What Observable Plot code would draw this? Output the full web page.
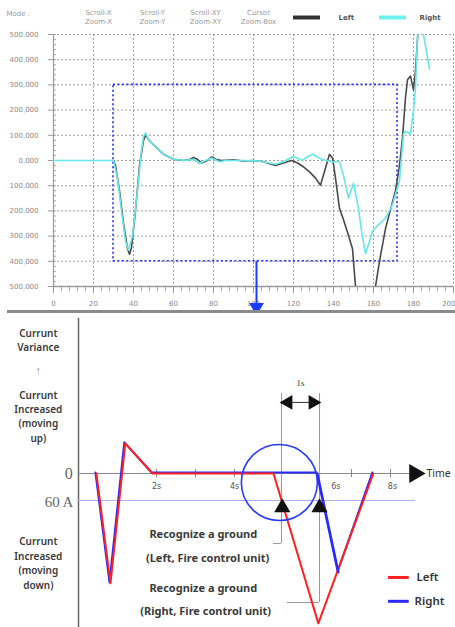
<!DOCTYPE html>
<html><head><meta charset="utf-8">
<script src="https://cdn.jsdelivr.net/npm/d3@7"></script>
<script src="https://cdn.jsdelivr.net/npm/@observablehq/plot@0.6"></script>
<style>
body{margin:0;background:#fff;}
#wrap{position:relative;width:455px;height:627px;overflow:hidden;background:#fff;font-family:"DejaVu Sans",sans-serif;}
#top{position:absolute;left:0;top:0;width:455px;height:312px;}
#bottom{position:absolute;left:0;top:312px;width:455px;height:315px;}
#sep{position:absolute;left:7px;top:310px;width:448px;height:3px;background:#8a8a8a;}
</style></head><body><div id="wrap"><div id="top"></div><div id="sep"></div><div id="bottom"></div></div>
<script>
// ---------- TOP CHART DATA (x units, y in thousands) ----------
const modeButtons = [{t:"Scroll-X",b:"Zoom-X",x:22.5},{t:"Scroll-Y",b:"Zoom-Y",x:49.5},{t:"Scroll-XY",b:"Zoom-XY",x:76},{t:"Cursor",b:"Zoom-Box",x:102.5}];
const topSeries = [{s:"Left",c:"#333",x1:120,x2:133.5,tx:142.5},{s:"Right",c:"#6ff0f0",x1:163,x2:176.5,tx:183}];
const xTicksTop = [0,20,40,60,80,100,120,140,160,180,200];
const yTicksTop = [-500,-400,-300,-200,-100,0,100,200,300,400,500];
const leftTrace = [[30,0],[31,-20],[33,-120],[35,-250],[37,-350],[38,-372],[39,-345],[41,-200],[43,-20],[45,80],[46,100],[48,78],[51,55],[55,25],[60,5],[65,0],[68,3],[70,12],[72,5],[74,-10],[77,0],[79,15],[81,5],[84,0],[90,3],[95,-2],[100,0],[105,-5],[111,-20],[115,-10],[119,0],[122,-10],[125,-25],[128,-45],[131,-70],[133.5,-98],[136,-30],[138,25],[139.5,10],[141,-70],[143,-190],[145,-235],[147,-285],[149.5,-350],[151,-500],[153,-620],[159,-620],[161,-500],[163,-400],[166,-270],[168,-210],[171,-120],[173,-20],[174.5,90],[176,250],[177,320],[178.5,335],[180,280],[181,355],[182,480],[183,620]];
const rightTrace = [[0,0],[30,0],[32,-70],[34,-200],[36,-320],[37.5,-355],[39.5,-300],[42,-120],[44,40],[45,95],[46,110],[47.5,82],[51,55],[55,25],[60,5],[66,0],[70,5],[73,-12],[76,0],[79,10],[83,-5],[86,0],[95,0],[103,-2],[111,-15],[115,-5],[119.5,15],[122,10],[124.5,0],[127,15],[129.5,25],[134,5],[139,-5],[143,-5],[145,-60],[147.5,-150],[150,-90],[152.5,-190],[154,-280],[156,-370],[158,-320],[159.5,-280],[162.5,-255],[166,-230],[169.5,-175],[173,-80],[175,105],[176,116],[178.5,105],[180,200],[181,287],[182,500],[183.5,600],[185,500],[188,363]];
const zoomBox = [{x1:30, x2:172, y1:-400, y2:300}];
const zoomArrow = [{x:101.5, from:-400, to:-568, head:-582}];

// ---------- BOTTOM CHART DATA (t in seconds, value in A) ----------
const redLine  = [[0.46,0],[0.82,-244],[1.2,67],[1.9,0],[5.0,0],[6.15,-333],[7.56,0]];
const blueLine = [[0.46,0],[0.82,-244],[1.2,67],[1.9,0],[6.13,0],[6.67,-220],[7.56,0]];
const threshold = -60;
const timeTicks = [2,3,4,7,8];
const timeLabels = [{t:2,s:"2s"},{t:4,s:"4s"},{t:6.6,s:"6s"},{t:8.05,s:"8s"}];
const detectTimes = [{t:5.205, low:-155.6, leadTo:5.0, lead:-155.6},{t:6.18, low:-286.7, leadTo:5.36, lead:-286.7}];
const circleMark = [{t:5.15, v:-20}];
const leftLabels = [["Currunt",311],["Variance",280],["Currunt",173],["Increased",142],["(moving",111],["up)",78],["Currunt",-151],["Increased",-184],["(moving",-216],["down)",-249]];
const noteLines = [{t:3.2,v:-135.6,s:"Recognize a ground"},{t:3.31,v:-189,s:"(Left, Fire control unit)"},{t:3.2,v:-255.6,s:"Recognize a ground"},{t:3.26,v:-306.7,s:"(Right, Fire control unit)"}];
const legendBottom = [{s:"Left",c:"#ff2020",v:-231,tx:8.95},{s:"Right",c:"#2a2aff",v:-284,tx:9.0}];

const fmtY = v => (Math.abs(v)===0 ? "0" : String(Math.abs(v))) + ",000";
const minorY = d3.range(-500,501,20);
const minorX = d3.range(0,201,4);

const topPlot = Plot.plot({
  width:455, height:312, marginLeft:53, marginRight:2, marginTop:34, marginBottom:26,
  style:{background:"transparent", fontFamily:"DejaVu Sans", fontSize:"7px", color:"#888"},
  x:{domain:[0,200]}, y:{domain:[-500,500]},
  marks:[
    Plot.gridX(xTicksTop.slice(1), {stroke:"#888", strokeOpacity:0.8, strokeDasharray:"2,2"}),
    Plot.gridY(yTicksTop, {stroke:"#888", strokeOpacity:0.8, strokeDasharray:"2,2"}),
    Plot.ruleY(minorY, {x1:0, x2:1.5, stroke:"#aaa"}),
    Plot.ruleX(minorX, {y1:-500, y2:-521, stroke:"#aaa"}),
    Plot.ruleX([0], {stroke:"#999", strokeWidth:1.2}),
    Plot.ruleY([-500], {stroke:"#999", strokeWidth:1.5}),
    Plot.axisX(xTicksTop, {tickSize:7, stroke:"#999", text:null}),
    Plot.text(xTicksTop.slice(0,-1), {x:d=>d, y:-500, dy:17, text:d=>String(d), fill:"#888", fontSize:7}),
    Plot.text(xTicksTop.slice(-1), {x:d=>d, y:-500, dy:17, dx:2, textAnchor:"end", text:d=>String(d), fill:"#888", fontSize:7}),
    Plot.axisY(yTicksTop, {tickSize:5, tickPadding:10, stroke:"#999", fill:"#888", fontSize:7, tickFormat:fmtY}),
    // header
    Plot.text(["Mode :"], {x:0, y:500, dx:-47, dy:-21, textAnchor:"start", text:d=>d, fill:"#999", fontSize:7}),
    Plot.text(modeButtons, {x:"x", y:500, dy:-22, text:"t", fill:"#999", fontSize:7}),
    Plot.text(modeButtons, {x:"x", y:500, dy:-13, text:"b", fill:"#999", fontSize:7}),
    Plot.ruleY(topSeries, {y:500, dy:-17, x1:"x1", x2:"x2", stroke:"c", strokeWidth:4}),
    Plot.text(topSeries, {x:"tx", y:500, dy:-17, textAnchor:"start", text:"s", fill:"#555", fontWeight:"bold", fontSize:7}),
    Plot.rect(zoomBox, {x1:"x1", x2:"x2", y1:"y1", y2:"y2", fill:"none", stroke:"#2430ee", strokeWidth:1.6, strokeDasharray:"2,2.5"}),
    Plot.line(leftTrace, {x:d=>d[0], y:d=>d[1], stroke:"#4a4a4a", strokeWidth:1.6, clip:true}),
    Plot.line(rightTrace, {x:d=>d[0], y:d=>d[1], stroke:"#66e8e8", strokeWidth:1.6, clip:true}),
    Plot.ruleX(zoomArrow, {x:"x", y1:"from", y2:"to", stroke:"#1a3cff", strokeWidth:2}),
    Plot.dot(zoomArrow, {x:"x", y:"head", symbol:"triangle", rotate:180, r:5.5, fill:"#1a3cff", stroke:"none"})
  ]
});
document.getElementById("top").appendChild(topPlot);

// ---------- BOTTOM CHART ----------
const labelX = -1.03;
const bottomPlot = Plot.plot({
  width:455, height:315, margin:0,
  style:{background:"transparent", fontFamily:"Noto Sans"},
  x:{domain:[0, 377/39], range:[78,455], axis:null},
  y:{domain:[-342.2, 357.8], range:[315,0], axis:null},
  marks:[
    Plot.ruleX([0], {y1:-342, y2:345, stroke:"#666", strokeWidth:1.5}),
    Plot.ruleY([threshold], {x1:0, x2:8.64, stroke:"#aab2ff", strokeWidth:1}),
    Plot.ruleY([0], {x1:0, x2:8.5, stroke:"#888", strokeWidth:1}),
    Plot.ruleX(timeTicks, {y1:-9, y2:9, stroke:"#888"}),
    Plot.dot([8.62], {x:d=>d, y:0, symbol:"triangle", rotate:90, r:7, fill:"#111", stroke:"none"}),
    Plot.text(["Time"], {x:8.92, y:0, text:d=>d, textAnchor:"start", fontSize:10.5, fill:"#333"}),
    Plot.text(timeLabels, {x:"t", y:-29, text:"s", fontSize:8, fill:"#555", fontFamily:"DejaVu Sans"}),
    // detection guides
    Plot.ruleX(detectTimes, {x:"t", y1:"low", y2:178, stroke:"#999", strokeWidth:1}),
    Plot.ruleY(detectTimes, {y:"lead", x1:"leadTo", x2:"t", stroke:"#999", strokeWidth:1}),
    Plot.ruleY([158], {x1:detectTimes[0].t+0.25, x2:detectTimes[1].t-0.25, stroke:"#333", strokeWidth:1}),
    Plot.dot([detectTimes[0].t+0.17], {x:d=>d, y:158, symbol:"triangle", rotate:-90, r:5.5, fill:"#111", stroke:"none"}),
    Plot.dot([detectTimes[1].t-0.17], {x:d=>d, y:158, symbol:"triangle", rotate:90, r:5.5, fill:"#111", stroke:"none"}),
    Plot.text(["1s"], {x:(detectTimes[0].t+detectTimes[1].t)/2, y:200, text:d=>d, fontSize:9, fontFamily:"Liberation Serif", fill:"#333"}),
    // lines
    Plot.line(blueLine, {x:d=>d[0], y:d=>d[1], stroke:"#2a2aff", strokeWidth:2, dx:-1, dy:-1}),
    Plot.line(redLine, {x:d=>d[0], y:d=>d[1], stroke:"#ff2020", strokeWidth:2}),
    Plot.line(blueLine.slice(4,6), {x:d=>d[0], y:d=>d[1], stroke:"#2a2aff", strokeWidth:2}),
    Plot.dot(circleMark, {x:"t", y:"v", r:38, fill:"none", stroke:"#2a3cf0", strokeWidth:1.6}),
    Plot.dot(detectTimes, {x:d=>d.t + (d===detectTimes[0]?0.02:0), y:-75.6, symbol:"triangle", r:6, fill:"#111", stroke:"none"}),
    // labels
    Plot.text(leftLabels, {x:labelX, y:d=>d[1], text:d=>d[0], fontSize:10, fontWeight:600, fill:"#3a3a3a"}),
    Plot.text(["↑"], {x:labelX, y:229, text:d=>d, fontSize:11, fill:"#888"}),
    Plot.text(["0"], {x:-0.15, y:0, text:d=>d, textAnchor:"end", fontSize:16, fontFamily:"Liberation Serif", fill:"#666"}),
    Plot.text(["60 A"], {x:-0.13, y:threshold-4, text:d=>d, textAnchor:"end", fontSize:15, fontFamily:"Liberation Serif", fill:"#666"}),
    Plot.text(noteLines, {x:"t", y:"v", text:"s", fontSize:11, fontWeight:700, fill:"#3a3a3a"}),
    // legend
    Plot.ruleY(legendBottom, {y:"v", x1:7.95, x2:8.48, stroke:"c", strokeWidth:3}),
    Plot.text(legendBottom, {x:"tx", y:"v", text:"s", textAnchor:"middle", fontSize:11.5, fontWeight:600, fill:"#333"})
  ]
});
document.getElementById("bottom").appendChild(bottomPlot);
</script></body></html>
